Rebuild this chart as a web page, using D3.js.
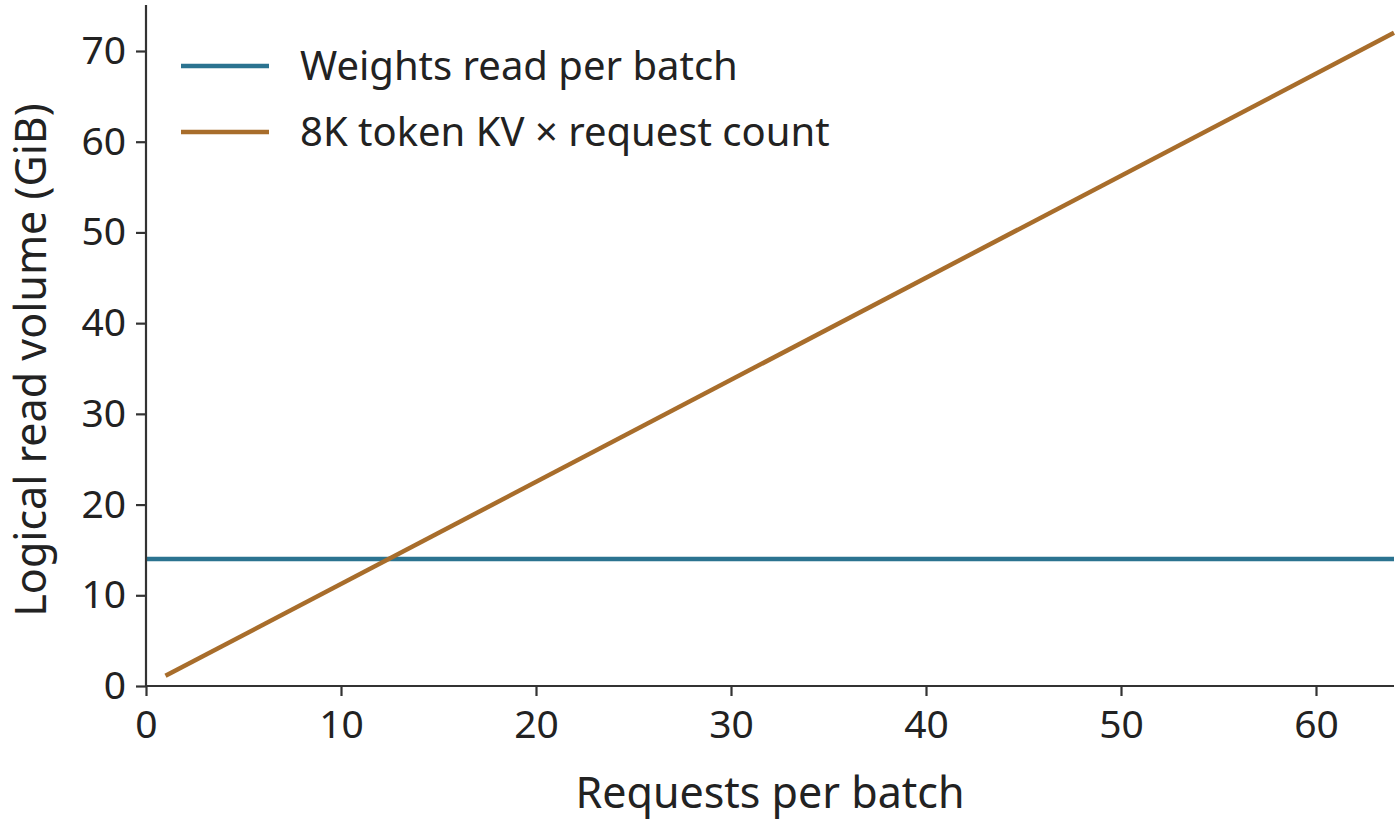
<!DOCTYPE html>
<html><head><meta charset="utf-8">
<script src="https://cdn.jsdelivr.net/npm/d3@7"></script>
<style>body{margin:0;background:#fff}text{font-family:"Source Sans Pro","Noto Sans",sans-serif;fill:#222}</style>
</head><body><svg id="c" width="1400" height="827"></svg>
<script>
const xTicks=[0,10,20,30,40,50,60];
const yTicks=[0,10,20,30,40,50,60,70];
const weightsSeries=[[0,14],[64,14]];
const kvSeries=[[1,1.125],[64,72]];
const seriesNames=["Weights read per batch","8K token KV \u00d7 request count"];
const colors=["#2b7390","#a86d2b"];

const svg=d3.select("#c");
const x=d3.scaleLinear().domain([0,64]).range([146,1394]);
const y=d3.scaleLinear().domain([0,70]).range([686,51]);
const line=d3.line().x(d=>x(d[0])).y(d=>y(d[1]));
[weightsSeries,kvSeries].forEach((s,i)=>svg.append("path").attr("d",line(s)).attr("fill","none").attr("stroke",colors[i]).attr("stroke-width",4.5));

const xa=svg.append("g").attr("transform","translate(0,686)").call(d3.axisBottom(x).tickValues(xTicks).tickSize(10).tickPadding(14));
const ya=svg.append("g").attr("transform","translate(146,0)").call(d3.axisLeft(y).tickValues(yTicks).tickSize(10).tickPadding(10));
xa.select(".domain").attr("d","M146,0H1394");
[xa,ya].forEach(a=>{a.selectAll("path,line").attr("stroke","#333").attr("stroke-width",2.2);a.selectAll("text").attr("font-size",39).attr("fill","#222").attr("font-family","'Source Sans Pro','Noto Sans',sans-serif");});
ya.select(".domain").attr("d","M0,5V686");

svg.append("text").attr("x",770).attr("y",808).attr("text-anchor","middle").attr("font-size",43).text("Requests per batch");
svg.append("text").attr("transform","translate(46,360) rotate(-90)").attr("text-anchor","middle").attr("font-size",43).text("Logical read volume (GiB)");

seriesNames.forEach((n,i)=>{
  const yy=66+i*66;
  svg.append("line").attr("x1",181).attr("x2",269).attr("y1",yy).attr("y2",yy).attr("stroke",colors[i]).attr("stroke-width",4.5);
  svg.append("text").attr("x",300).attr("y",yy+14).attr("font-size",40).text(n);
});
</script></body></html>
